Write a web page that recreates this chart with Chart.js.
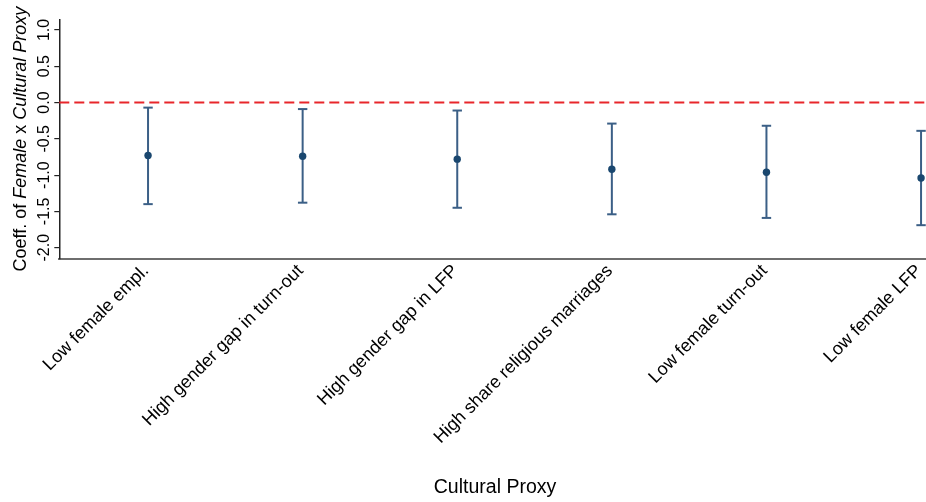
<!DOCTYPE html>
<html>
<head>
<meta charset="utf-8">
<script src="https://cdn.jsdelivr.net/npm/chart.js@4.4.1/dist/chart.umd.min.js"></script>
<style>
  html, body { margin: 0; padding: 0; background: #ffffff; }
  #wrap { width: 926px; height: 502px; position: relative; }
</style>
</head>
<body>
<div id="wrap"><canvas id="chart" width="926" height="502"></canvas></div>
<script>
// Coefficient estimates with 95% confidence bounds, one per cultural proxy
const categories = [
  'Low female empl.',
  'High gender gap in turn-out',
  'High gender gap in LFP',
  'High share religious marriages',
  'Low female turn-out',
  'Low female LFP'
];
const coefficients = [-0.73, -0.74, -0.78, -0.92, -0.96, -1.04];
const ciUpper = [-0.07, -0.09, -0.11, -0.29, -0.32, -0.39];
const ciLower = [-1.40, -1.38, -1.45, -1.54, -1.59, -1.69];
const yTicks = [-2.0, -1.5, -1.0, -0.5, 0.0, 0.5, 1.0];
const referenceValue = 0;
const xTitle = 'Cultural Proxy';
const yTitleParts = [
  ['Coeff. of ', false],
  ['Female', true],
  [' x ', false],
  ['Cultural Proxy', true]
];

const X_MIN = -0.574, X_MAX = 5.032;
const Y_MIN = -2.156, Y_MAX = 1.147;
const FONT = '"Liberation Sans", Arial, Helvetica, sans-serif';
const NAVY = '#1a476f';
const BAR = '#3b5f86';

// vertical CI segments, separated by gaps so each bar is its own stroke
const ciPoints = [];
categories.forEach((_, i) => {
  ciPoints.push({ x: i, y: ciLower[i] });
  ciPoints.push({ x: i, y: ciUpper[i] });
  ciPoints.push({ x: i, y: null });
});

const axisText = {
  id: 'axisText',
  afterDraw(chart) {
    const { ctx, scales: { x, y } } = chart;
    ctx.save();
    ctx.fillStyle = '#000000';

    // y tick labels, written vertically
    ctx.font = '16px ' + FONT;
    ctx.textAlign = 'center';
    ctx.textBaseline = 'alphabetic';
    yTicks.forEach(v => {
      const py = y.getPixelForValue(v);
      ctx.save();
      ctx.translate(49, py);
      ctx.rotate(-Math.PI / 2);
      ctx.fillText(v.toFixed(1), 0, 0);
      ctx.restore();
    });

    // y axis title with italic terms
    const fontFor = it => (it ? 'italic ' : '') + '18px ' + FONT;
    let total = 0;
    yTitleParts.forEach(([t, it]) => { ctx.font = fontFor(it); total += ctx.measureText(t).width; });
    ctx.save();
    ctx.translate(26, (y.top + y.bottom) / 2);
    ctx.rotate(-Math.PI / 2);
    ctx.textAlign = 'left';
    let cx = -total / 2;
    yTitleParts.forEach(([t, it]) => {
      ctx.font = fontFor(it);
      ctx.fillText(t, cx, 0);
      cx += ctx.measureText(t).width;
    });
    ctx.restore();

    // category labels at 45 degrees
    ctx.font = '18px ' + FONT;
    ctx.textAlign = 'right';
    ctx.textBaseline = 'middle';
    categories.forEach((c, i) => {
      const px = x.getPixelForValue(i);
      ctx.save();
      ctx.translate(px - 2, x.top + 9);
      ctx.rotate(-Math.PI / 4);
      ctx.fillText(c, 0, 0);
      ctx.restore();
    });

    // x axis title
    ctx.font = '19.5px ' + FONT;
    ctx.textAlign = 'center';
    ctx.textBaseline = 'alphabetic';
    ctx.fillText(xTitle, 495, 493);
    ctx.restore();
  }
};

new Chart(document.getElementById('chart'), {
  type: 'scatter',
  data: {
    datasets: [
      {
        type: 'line',
        data: [{ x: X_MIN, y: referenceValue }, { x: X_MAX, y: referenceValue }],
        borderColor: '#e8262b',
        borderWidth: 2,
        borderDash: [10, 5],
        pointRadius: 0,
        clip: false,
        order: 3
      },
      {
        type: 'line',
        data: ciPoints,
        showLine: true,
        spanGaps: false,
        borderColor: BAR,
        borderWidth: 2,
        pointStyle: 'line',
        pointRadius: 4.7,
        pointBorderWidth: 2,
        pointBorderColor: BAR,
        clip: false,
        order: 2
      },
      {
        data: categories.map((_, i) => ({ x: i, y: coefficients[i] })),
        backgroundColor: NAVY,
        borderColor: NAVY,
        borderWidth: 0,
        pointRadius: 3.7,
        clip: false,
        order: 1
      }
    ]
  },
  options: {
    responsive: false,
    devicePixelRatio: 1,
    animation: false,
    events: [],
    layout: { autoPadding: false, padding: { top: 19.3, right: 0, left: 0, bottom: 0 } },
    plugins: { legend: { display: false }, tooltip: { enabled: false } },
    scales: {
      x: {
        type: 'linear',
        min: X_MIN,
        max: X_MAX,
        grid: { display: false },
        border: { display: true, color: '#6e6e6e', width: 2 },
        ticks: { display: false },
        afterFit(scale) { scale.height = 243; }
      },
      y: {
        type: 'linear',
        min: Y_MIN,
        max: Y_MAX,
        afterBuildTicks(scale) { scale.ticks = yTicks.map(v => ({ value: v })); },
        grid: { drawOnChartArea: false, drawTicks: true, tickLength: 5, color: '#222222', lineWidth: 1.2 },
        border: { display: true, color: '#222222', width: 1.5 },
        ticks: { display: false },
        afterFit(scale) { scale.width = 59.3; }
      }
    }
  },
  plugins: [axisText]
});
</script>
</body>
</html>
